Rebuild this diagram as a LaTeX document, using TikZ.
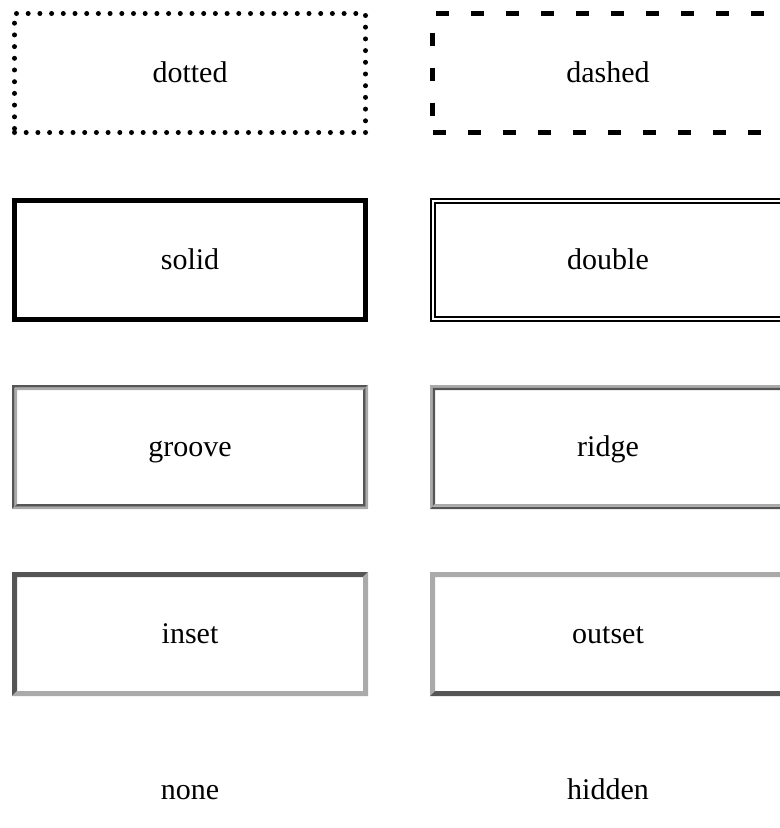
\documentclass[tikz,border=0pt]{standalone}
\usepackage{fontspec}
\setmainfont{Liberation Serif}
\usetikzlibrary{calc,positioning}

\definecolor{edgedark}{HTML}{555555}
\definecolor{edgelight}{HTML}{AAAAAA}

% bevelled band: node, top-left colour, bottom-right colour, from, to
\newcommand\edgeband[5]{%
  \fill[#2] ($(#1.south west)+(#4,-#4)$) -- ($(#1.north west)+(#4,#4)$)
    -- ($(#1.north east)+(-#4,#4)$) -- ($(#1.north east)+(-#5,#5)$)
    -- ($(#1.north west)+(#5,#5)$) -- ($(#1.south west)+(#5,-#5)$) -- cycle;
  \fill[#3] ($(#1.south west)+(#4,-#4)$) -- ($(#1.south east)+(-#4,-#4)$)
    -- ($(#1.north east)+(-#4,#4)$) -- ($(#1.north east)+(-#5,#5)$)
    -- ($(#1.south east)+(-#5,-#5)$) -- ($(#1.south west)+(#5,-#5)$) -- cycle;
}

\begin{document}
\begin{tikzpicture}[x=0.75pt,y=-0.75pt,
                    every node/.style={font=\fontsize{22.5}{27}\selectfont,
                                       text height=17pt,text depth=3.5pt},
                    cell/.style={rectangle,inner sep=0pt,outer sep=0pt,
                                 minimum width=267pt,minimum height=93pt},
                    boxed/.style={cell,draw,line width=#1,
                                  minimum width=267pt-#1,minimum height=93pt-#1},
                    dotline/.style={boxed=3.75pt,line cap=round,
                                    dash pattern=on 0pt off 8.775pt},
                    dashline/.style={boxed=3.75pt,dash pattern=on 9.75pt off 16.5pt},
                    doubleline/.style={cell,draw,double,line width=1.5pt,
                                       double distance=1.5pt,
                                       minimum width=267pt-4.5pt,minimum height=93pt-4.5pt}]
    \useasboundingbox (0,0) rectangle (779,828);

    \node (dotted) [dotline] at (190,73) {dotted};
    \node (dashed) [dashline] at (608,73) {dashed};
    \node (solid) [boxed=3.75pt] at (190,260) {solid};
    \node (double) [doubleline] at (608,260) {double};
    \node (groove) [cell] at (190,447) {groove};
    \node (ridge) [cell] at (608,447) {ridge};
    \node (inset) [cell] at (190,634) {inset};
    \node (outset) [cell] at (608,634) {outset};
    \node (none) at (190,790) {none};
    \node (hidden) at (608,790) {hidden};

    \edgeband{groove}{edgedark}{edgelight}{0}{2.5}
    \edgeband{groove}{edgelight}{edgedark}{2.5}{5}
    \edgeband{ridge}{edgelight}{edgedark}{0}{2.5}
    \edgeband{ridge}{edgedark}{edgelight}{2.5}{5}
    \edgeband{inset}{edgedark}{edgelight}{0}{5}
    \edgeband{outset}{edgelight}{edgedark}{0}{5}
\end{tikzpicture}
\end{document}
